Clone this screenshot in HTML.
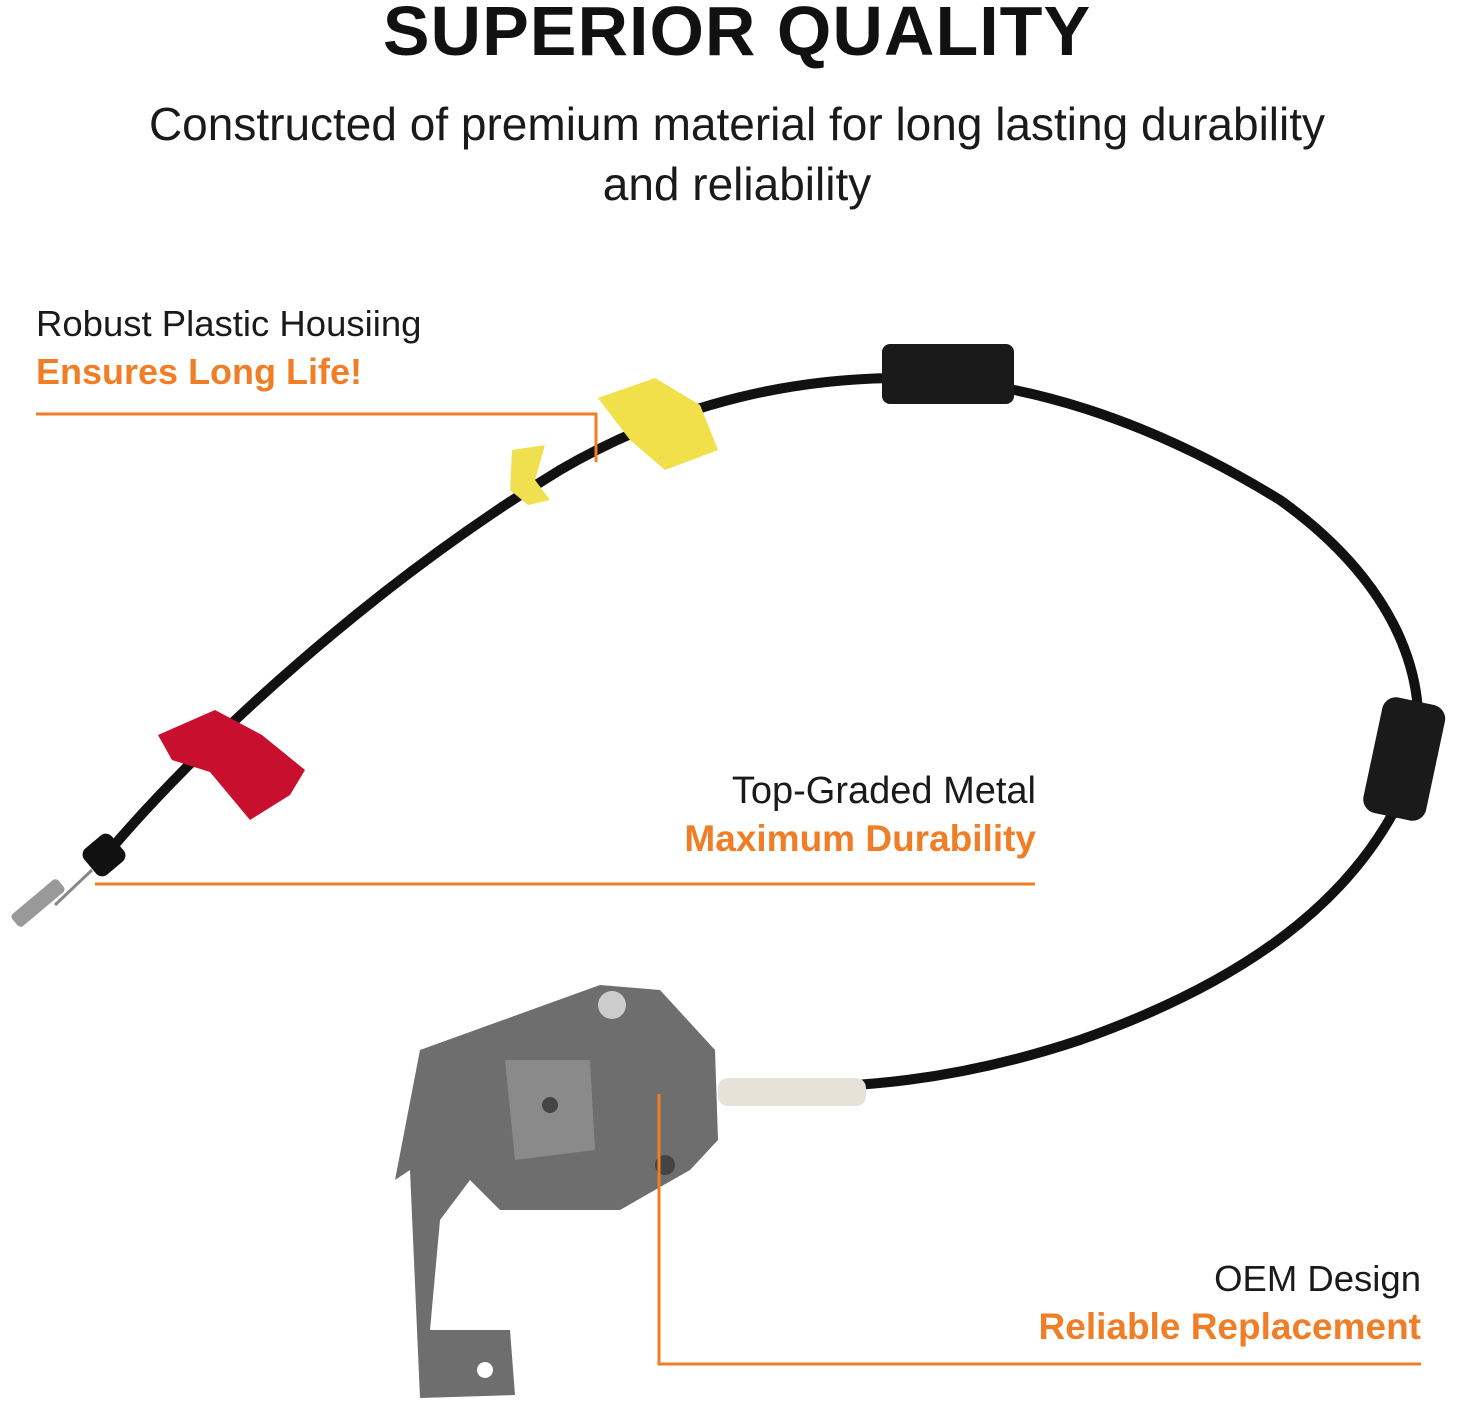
<!DOCTYPE html>
<html><head><meta charset="utf-8"><style>
html,body{margin:0;padding:0;background:#fff;}
body{width:1474px;height:1418px;position:relative;overflow:hidden;font-family:"Liberation Sans",sans-serif;}
.t{position:absolute;white-space:nowrap;}
.h{left:0;width:1474px;text-align:center;top:-9px;font-size:70px;font-weight:bold;color:#111;letter-spacing:1px;}
.s{left:0;width:1474px;text-align:center;font-size:46px;color:#1a1a1a;}
.l{font-size:36.5px;color:#1a1a1a;}
.o{font-size:36px;color:#f07e26;font-weight:bold;}
.r{text-align:right;}
</style></head><body>
<svg width="1474" height="1418" style="position:absolute;left:0;top:0">
 <path d="M95,868 C200,740 380,580 560,470 C680,400 800,378 900,378 C1020,378 1150,420 1280,500 C1420,600 1440,720 1400,800 C1350,900 1250,980 1080,1040 C960,1080 860,1090 730,1088" fill="none" stroke="#111" stroke-width="10"/>
 <polygon points="158,735 215,710 262,735 305,770 290,795 250,820 210,772 172,760" fill="#c8102e"/>
 <polygon points="598,398 655,378 700,405 718,450 665,470 630,440" fill="#f2e04a"/>
 <path d="M512,450 L545,445 L535,480 L550,500 L528,505 L510,490 Z" fill="#f0e050"/>
 <rect x="882" y="344" width="132" height="60" rx="8" fill="#1a1a1a"/>
 <rect x="1372" y="700" width="64" height="118" rx="14" fill="#1a1a1a" transform="rotate(12 1404 760)"/>
 <rect x="86" y="838" width="36" height="34" rx="8" fill="#111" transform="rotate(-40 104 855)"/>
 <line x1="92" y1="870" x2="55" y2="905" stroke="#888" stroke-width="3"/>
 <rect x="8" y="895" width="60" height="16" rx="4" fill="#999" transform="rotate(-40 38 903)"/>
 <rect x="718" y="1078" width="148" height="28" rx="10" fill="#e6e2d8"/>
 <polygon points="420,1050 600,985 660,990 715,1050 718,1140 690,1170 620,1210 500,1210 470,1180 440,1220 430,1330 510,1330 515,1395 420,1398 410,1170 395,1180" fill="#6e6e6e"/>
 <polygon points="505,1060 590,1060 595,1150 515,1160" fill="#8a8a8a"/>
 <circle cx="612" cy="1005" r="14" fill="#ccc"/>
 <circle cx="550" cy="1105" r="8" fill="#444"/>
 <circle cx="665" cy="1165" r="10" fill="#444"/>
 <circle cx="485" cy="1370" r="8" fill="#fff"/>
 <polyline points="36,414 596,414 596,462" fill="none" stroke="#f07e26" stroke-width="3"/>
 <line x1="95" y1="884" x2="1035" y2="884" stroke="#f07e26" stroke-width="3"/>
 <polyline points="659,1094 659,1364 1421,1364" fill="none" stroke="#f07e26" stroke-width="3"/>
</svg>
<div class="t h">SUPERIOR QUALITY</div>
<div class="t s" style="top:97px">Constructed of premium material for long lasting durability</div>
<div class="t s" style="top:157px">and reliability</div>
<div class="t l" style="left:36px;top:303px">Robust Plastic Housiing</div>
<div class="t o" style="left:36px;top:351px">Ensures Long Life!</div>
<div class="t l r" style="right:438px;top:770px;font-size:38px">Top-Graded Metal</div>
<div class="t o r" style="right:438px;top:818px;font-size:37px">Maximum Durability</div>
<div class="t l r" style="right:53px;top:1258px">OEM Design</div>
<div class="t o r" style="right:53px;top:1306px;font-size:37px">Reliable Replacement</div>
</body></html>
